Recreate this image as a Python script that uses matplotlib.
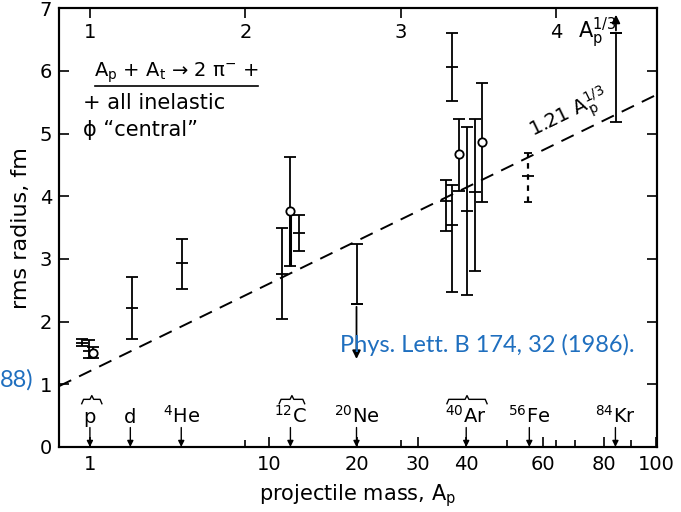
import numpy as np
import matplotlib
matplotlib.use("Agg")
import matplotlib.pyplot as plt

plt.rcParams['font.family'] = ['DejaVu Sans']
plt.rcParams['mathtext.default'] = 'regular'

# ---------------- data ----------------
# "all inelastic" points: projectile mass A, radius, lower bound, upper bound
inel_A = [0.85, 0.99, 2.05, 4.03, 11.2, 12.9, 35.6, 36.8, 36.8, 40.1, 42.0]
inel_r = [1.66, 1.53, 2.22, 2.93, 2.76, 3.41, 3.92, 3.54, 6.06, 3.77, 4.07]
inel_lo = [1.61, 1.42, 1.72, 2.52, 2.04, 3.13, 3.45, 2.48, 5.52, 2.42, 2.80]
inel_hi = [1.72, 1.70, 2.71, 3.32, 3.50, 3.70, 4.26, 4.18, 6.60, 5.11, 5.23]

# "central" points
cent_A = [1.065, 11.95, 38.4, 43.7]
cent_r = [1.50, 3.77, 4.67, 4.87]
cent_lo = [1.42, 2.89, 4.09, 3.91]
cent_hi = [1.59, 4.62, 5.24, 5.80]

# Ne: upper limit (arrow downward)
ne_A, ne_r, ne_hi, ne_arrow = 20.0, 2.28, 3.24, 1.36
# Fe: dashed error bar
fe_A, fe_r, fe_lo, fe_hi = 55.7, 4.32, 3.91, 4.69
# Kr: lower limit (arrow upward)
kr_A, kr_r, kr_lo, kr_arrow = 84.2, 6.60, 5.18, 6.94

# fit line coefficient
fit_coef = 1.21

# projectile labels on bottom axis
proj_A = [1, 2, 4, 12, 20, 40, 56, 84]
proj_lab = ['p', 'd', r'$^{4}$He', r'$^{12}$C', r'$^{20}$Ne', r'$^{40}$Ar', r'$^{56}$Fe', r'$^{84}$Kr']
# braces above groups of measurements
brace_span = [(0.85, 1.25), (10.9, 13.5), (35.8, 44.9)]

bottom_ticks = [1, 10, 20, 30, 40, 60, 80, 100]
bottom_minor = [8, 27, 50, 64, 70, 90]
top_ticks = [1, 2, 3, 4]
y_ticks = [0, 1, 2, 3, 4, 5, 6, 7]

A_min, A_max = 0.514, 100.3

# ---------------- figure ----------------
fig = plt.figure(figsize=(6.81, 5.12), dpi=100)
ax = fig.add_axes([0.0866, 0.127, 0.878, 0.857])

fwd = lambda a: np.cbrt(a)
inv = lambda u: np.power(u, 3)
ax.set_xscale('function', functions=(fwd, inv))
ax.set_xlim(A_min, A_max)
ax.set_ylim(0, 7)

lw = 1.3
# dashed fit line
u = np.linspace(np.cbrt(A_min), np.cbrt(A_max), 200)
ax.plot(u ** 3, fit_coef * u, color='black', lw=1.4, ls=(0, (7, 4.5)))

# inelastic
ia = np.array(inel_A); ir = np.array(inel_r)
ax.errorbar(ia, ir, yerr=[ir - np.array(inel_lo), np.array(inel_hi) - ir],
            fmt='_', color='black', ms=9, mew=1.3, elinewidth=lw, capsize=4, capthick=lw)

# central
ca = np.array(cent_A); cr = np.array(cent_r)
ax.errorbar(ca, cr, yerr=[cr - np.array(cent_lo), np.array(cent_hi) - cr],
            fmt='o', color='black', ms=6, mfc='white', mew=1.3, elinewidth=lw,
            capsize=4, capthick=lw, zorder=3)
# thicker lower part for central 12C
ax.vlines(cent_A[1], cent_lo[1], cent_r[1] - 0.07, color='black', lw=2.2)

# Ne upper limit
ax.errorbar([ne_A], [ne_r], yerr=[[0], [ne_hi - ne_r]], fmt='_', color='black', ms=9,
            mew=1.3, elinewidth=lw, capsize=4, capthick=lw)
ax.annotate('', xy=(ne_A, ne_arrow), xytext=(ne_A, ne_r),
            arrowprops=dict(arrowstyle='-|>', color='black', lw=lw, mutation_scale=12))

# Fe dashed
eb = ax.errorbar([fe_A], [fe_r], yerr=[[fe_r - fe_lo], [fe_hi - fe_r]], fmt='_', color='black',
                 ms=9, mew=1.3, elinewidth=1.6, capsize=3, capthick=lw)
eb[2][0].set_linestyle((0, (2.5, 2.5)))

# Kr lower limit
ax.errorbar([kr_A], [kr_r], yerr=[[kr_r - kr_lo], [0]], fmt='_', color='black', ms=9,
            mew=1.3, elinewidth=lw, capsize=4, capthick=lw)
ax.annotate('', xy=(kr_A, kr_arrow), xytext=(kr_A, kr_r),
            arrowprops=dict(arrowstyle='-|>', color='black', lw=lw, mutation_scale=12))

# fit label
ux = np.cbrt(68.0)
p1 = ax.transData.transform((ux ** 3, fit_coef * ux))
p2 = ax.transData.transform(((ux + 0.2) ** 3, fit_coef * (ux + 0.2)))
ang = np.degrees(np.arctan2(p2[1] - p1[1], p2[0] - p1[0]))
ax.text(ux ** 3, fit_coef * ux + 0.37, r'1.21 A$_p^{1/3}$', rotation=ang, rotation_mode='anchor',
        ha='center', va='center', fontsize=14)

# projectile labels with arrows
for a, lab in zip(proj_A, proj_lab):
    ax.annotate('', xy=(a, 0.0), xytext=(a, 0.31),
                arrowprops=dict(arrowstyle='-|>', color='black', lw=1.0, mutation_scale=9,
                                shrinkA=0, shrinkB=0))
    ax.text(a, 0.38, lab, ha='center', va='baseline', fontsize=14)

# braces
for a0, a1 in brace_span:
    u0, u1 = np.cbrt(a0), np.cbrt(a1)
    um = 0.5 * (u0 + u1)
    d = 0.012
    yb = 0.76
    xs = np.array([u0, u0 + d, um - d, um, um + d, u1 - d, u1])
    ys = np.array([yb - 0.07, yb, yb, yb + 0.06, yb, yb, yb - 0.07])
    ax.plot(xs ** 3, ys, color='black', lw=1.0)

# legend-like text block
ax.text(0.196, 0.852, r'A$_p$ + A$_t$ → 2 π$^{-}$ +', transform=ax.transAxes,
        ha='center', va='center', fontsize=14)
ax.plot([0.06, 0.333], [0.822, 0.822], transform=ax.transAxes, color='black', lw=1.2)
ax.text(0.04, 0.785, '+ all inelastic', transform=ax.transAxes, ha='left', va='center', fontsize=15)
ax.text(0.04, 0.722, 'ϕ “central”', transform=ax.transAxes, ha='left', va='center', fontsize=15)

# axes ticks
ax.set_xticks(bottom_ticks)
ax.set_xticklabels([str(t) for t in bottom_ticks])
ax.set_xticks(bottom_minor, minor=True)
ax.set_yticks(y_ticks)
ax.tick_params(axis='x', which='major', direction='in', length=7, width=1.2, labelsize=14, pad=6,
               top=False)
ax.tick_params(axis='x', which='minor', direction='in', length=5, width=1.2, top=False)
ax.tick_params(axis='y', which='major', direction='in', length=7, width=1.2, labelsize=14,
               right=True, pad=5)

# top axis in A^(1/3), linear
top = ax.twiny()
top.set_xlim(np.cbrt(A_min), np.cbrt(A_max))
top.set_xticks(top_ticks)
top.set_xticklabels([str(t) for t in top_ticks])
top.tick_params(axis='x', direction='in', length=7, width=1.2, labelsize=14, pad=-24)
ax.text(0.868, 0.945, r'A$_p^{1/3}$', transform=ax.transAxes, ha='left', va='center', fontsize=15)

for s in list(ax.spines.values()) + list(top.spines.values()):
    s.set_linewidth(1.5)

ax.set_ylabel('rms radius, fm', fontsize=16, labelpad=6)
ax.set_xlabel('projectile mass, A$_p$', fontsize=15, labelpad=6)

# slide overlay text
blue = '#1f6fbf'
fig.text(0.499, 0.326, 'Phys. Lett. B 174, 32 (1986).', color=blue, fontsize=17,
         family=['Lato', 'DejaVu Sans'], ha='left', va='center')
fig.text(0.0, 0.258, '88)', color=blue, fontsize=17, family=['Lato', 'DejaVu Sans'],
         ha='left', va='center')

fig.savefig('out.png', dpi=100)
